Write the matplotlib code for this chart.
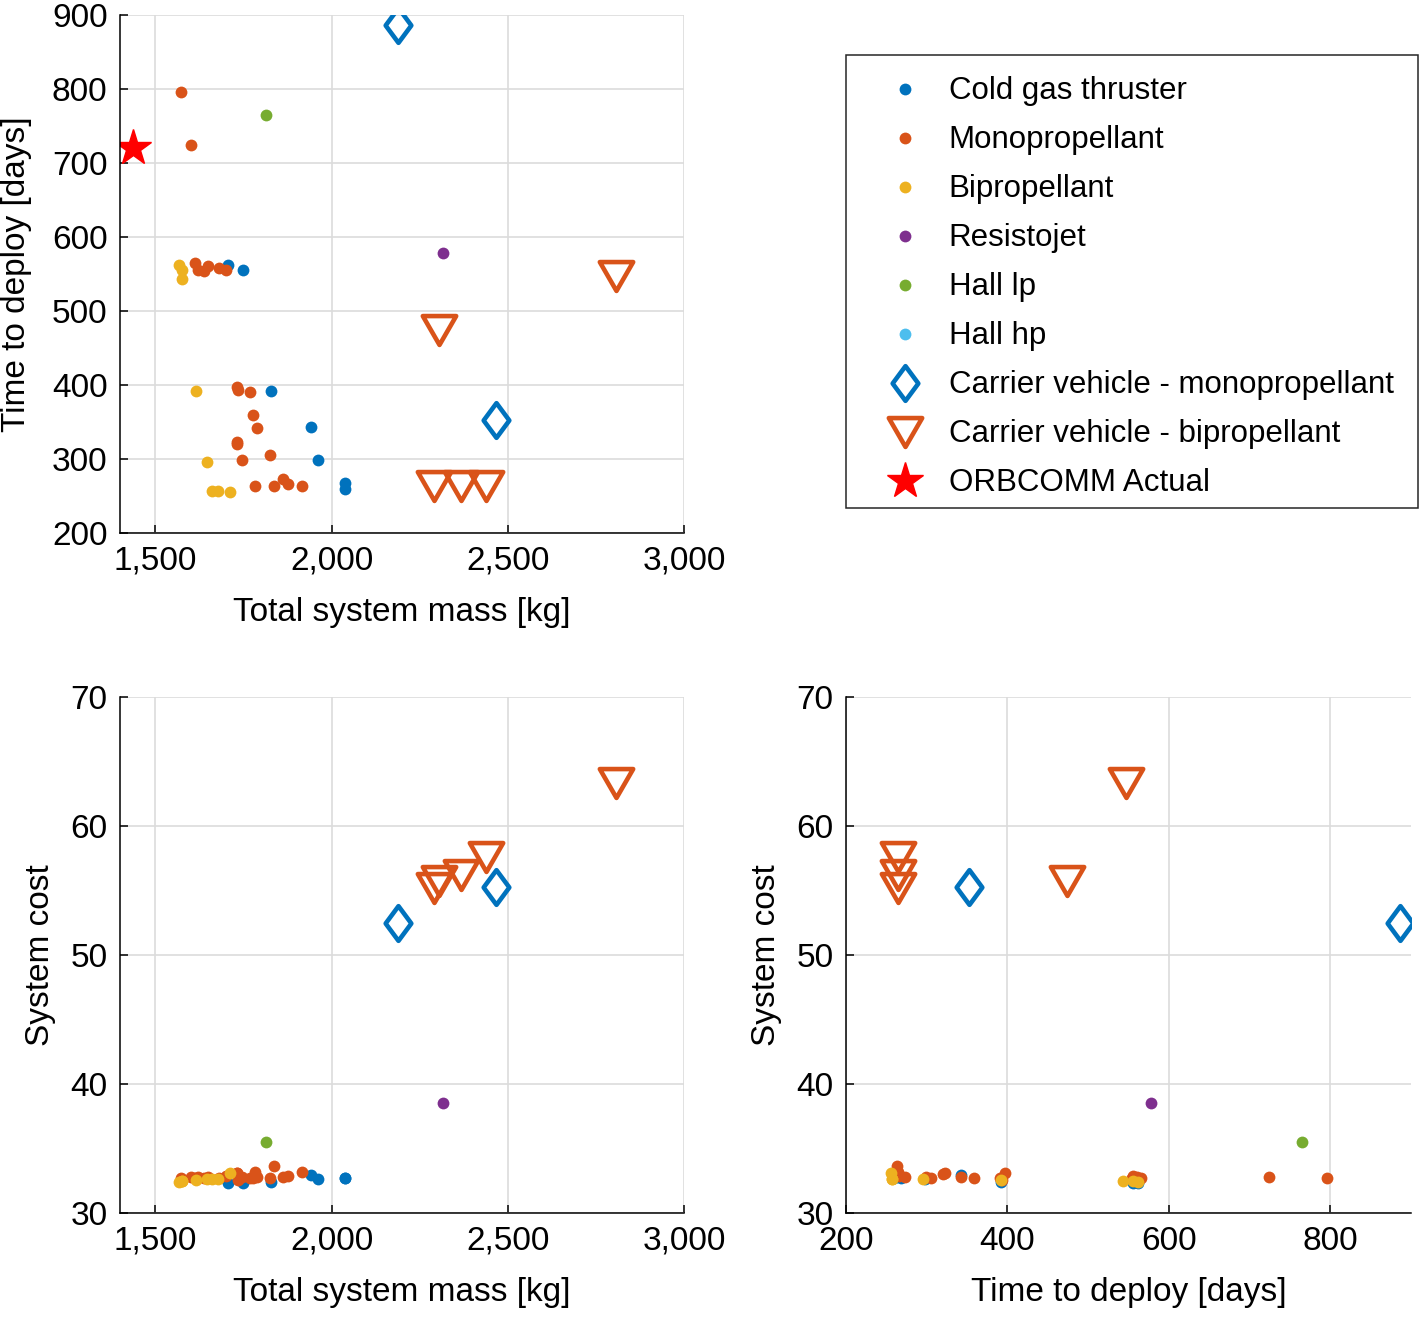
import numpy as np
import matplotlib
matplotlib.use("Agg")
from matplotlib import pyplot as plt
from matplotlib.path import Path
from matplotlib.patches import Rectangle
from matplotlib.ticker import FuncFormatter

plt.rcParams['font.family'] = ['Liberation Sans', 'DejaVu Sans']
plt.rcParams['font.size'] = 24

# design points: mass [kg], time to deploy [days], system cost
cold_mass = [1705, 1750, 1829, 1942, 1963, 2039, 2039]
cold_time = [562, 556, 392, 343, 298, 268, 260]
cold_cost = [32.30, 32.35, 32.43, 32.95, 32.64, 32.72, 32.68]

mono_mass = [1573, 1602, 1613, 1620, 1637, 1649, 1682, 1701, 1733, 1734, 1769,
             1776, 1788, 1731, 1732, 1746, 1826, 1784, 1838, 1862, 1878, 1916]
mono_time = [796, 724, 565, 556, 554, 561, 558, 555, 397, 393, 391,
             359, 342, 323, 320, 299, 305, 264, 263, 273, 266, 263]
mono_cost = [32.69, 32.77, 32.75, 32.80, 32.72, 32.78, 32.70, 32.85, 33.08, 32.56, 32.69,
             32.69, 32.81, 33.10, 33.02, 32.81, 32.69, 33.20, 33.65, 32.81, 32.87, 33.20]

bi_mass = [1566, 1575, 1575, 1616, 1646, 1662, 1679, 1713]
bi_time = [562, 555, 543, 392, 296, 257, 257, 256]
bi_cost = [32.43, 32.48, 32.50, 32.56, 32.61, 32.64, 32.66, 33.08]

resisto_mass = [2315]
resisto_time = [578]
resisto_cost = [38.5]

halllp_mass = [1815]
halllp_time = [765]
halllp_cost = [35.5]

hallhp_mass = []
hallhp_time = []
hallhp_cost = []

cvmono_mass = [2190, 2468]
cvmono_time = [886, 353]
cvmono_cost = [52.46, 55.25]

cvbi_mass = [2292, 2306, 2366, 2439, 2806]
cvbi_time = [264, 474, 264, 264, 547]
cvbi_cost = [55.17, 55.76, 56.20, 57.62, 63.31]

orb_mass = [1437]
orb_time = [720]

labels = ['Cold gas thruster', 'Monopropellant', 'Bipropellant', 'Resistojet',
          'Hall lp', 'Hall hp', 'Carrier vehicle - monopropellant',
          'Carrier vehicle - bipropellant', 'ORBCOMM Actual']

colors = ['#0072BD', '#D95319', '#EDB120', '#7E2F8E', '#77AC30', '#4DBEEE']

diamond = Path([(0, 1), (0.74, 0), (0, -1), (-0.74, 0), (0, 1)],
               [Path.MOVETO, Path.LINETO, Path.LINETO, Path.LINETO, Path.CLOSEPOLY])
tri_down = Path([(-1, 0.866), (1, 0.866), (0, -0.866), (-1, 0.866)],
                [Path.MOVETO, Path.LINETO, Path.LINETO, Path.CLOSEPOLY])

fig = plt.figure(figsize=(14.23, 13.17), dpi=100)
W, H = 1423, 1317
def add_ax(l, t, r, b):
    return fig.add_axes([l / W, 1 - b / H, (r - l) / W, (b - t) / H])

ax1 = add_ax(120, 15, 684, 533)
ax2 = add_ax(120, 697, 684, 1213)
ax3 = add_ax(846, 697, 1411, 1213)

def draw(ax, xs, ys):
    hs = []
    for c, x, y in zip(colors, xs[:6], ys[:6]):
        h, = ax.plot(x, y, 'o', color=c, markersize=8.5, markeredgewidth=0, linestyle='none')
        hs.append(h)
    h, = ax.plot(xs[6], ys[6], marker=diamond, markersize=25, markerfacecolor='none',
                 markeredgecolor='#0072BD', markeredgewidth=3.3, linestyle='none')
    hs.append(h)
    h, = ax.plot(xs[7], ys[7], marker=tri_down, markersize=24, markerfacecolor='none',
                 markeredgecolor='#D95319', markeredgewidth=3.3, linestyle='none')
    hs.append(h)
    return hs

masses = [cold_mass, mono_mass, bi_mass, resisto_mass, halllp_mass, hallhp_mass, cvmono_mass, cvbi_mass]
times = [cold_time, mono_time, bi_time, resisto_time, halllp_time, hallhp_time, cvmono_time, cvbi_time]
costs = [cold_cost, mono_cost, bi_cost, resisto_cost, halllp_cost, hallhp_cost, cvmono_cost, cvbi_cost]

handles = draw(ax1, masses, times)
star, = ax1.plot(orb_mass, orb_time, '*', color='#FF0000', markersize=27, linestyle='none')
handles.append(star)
draw(ax2, masses, costs)
draw(ax3, times, costs)

comma = FuncFormatter(lambda v, p: f"{v:,.0f}")
for ax in (ax1, ax2, ax3):
    for s in ('top', 'right'):
        ax.spines[s].set_visible(False)
    for s in ('left', 'bottom'):
        ax.spines[s].set_linewidth(1.1)
    ax.grid(True, color='#dcdcdc', linewidth=1.2)
    ax.set_axisbelow(True)
    ax.tick_params(direction='in', length=6, width=1.1, labelsize=24, pad=9)
    ax.xaxis.set_major_formatter(comma)

ax1.set_xlim(1400, 3000)
ax1.set_xticks([1500, 2000, 2500, 3000])
ax1.set_ylim(200, 900)
ax1.set_yticks(range(200, 901, 100))
ax1.set_xlabel('Total system mass [kg]', labelpad=15)
ax1.set_ylabel('Time to deploy [days]', labelpad=14)

ax2.set_xlim(1400, 3000)
ax2.set_xticks([1500, 2000, 2500, 3000])
ax2.set_ylim(30, 70)
ax2.set_yticks(range(30, 71, 10))
ax2.set_xlabel('Total system mass [kg]', labelpad=15)
ax2.set_ylabel('System cost', labelpad=10)

ax3.set_xlim(200, 900)
ax3.set_xticks([200, 400, 600, 800])
ax3.set_ylim(30, 70)
ax3.set_yticks(range(30, 71, 10))
ax3.set_xlabel('Time to deploy [days]', labelpad=15)
ax3.set_ylabel('System cost', labelpad=10)

# legend box drawn separately so its edges sit where the original has them
fig.patches.append(Rectangle((846 / W, 1 - 508 / H), (1418 - 846) / W, (508 - 55) / H,
                             transform=fig.transFigure, fill=False,
                             edgecolor='#262626', linewidth=1.1))
leg = fig.legend(handles, labels, loc='upper left',
                 bbox_to_anchor=(846 / W, 1 - 58 / H), bbox_transform=fig.transFigure,
                 borderaxespad=0, frameon=False,
                 fontsize=22.5, numpoints=1, handlelength=2.6, handletextpad=0.1,
                 borderpad=0.59, labelspacing=0.608)

fig.savefig('out.png', dpi=100)
